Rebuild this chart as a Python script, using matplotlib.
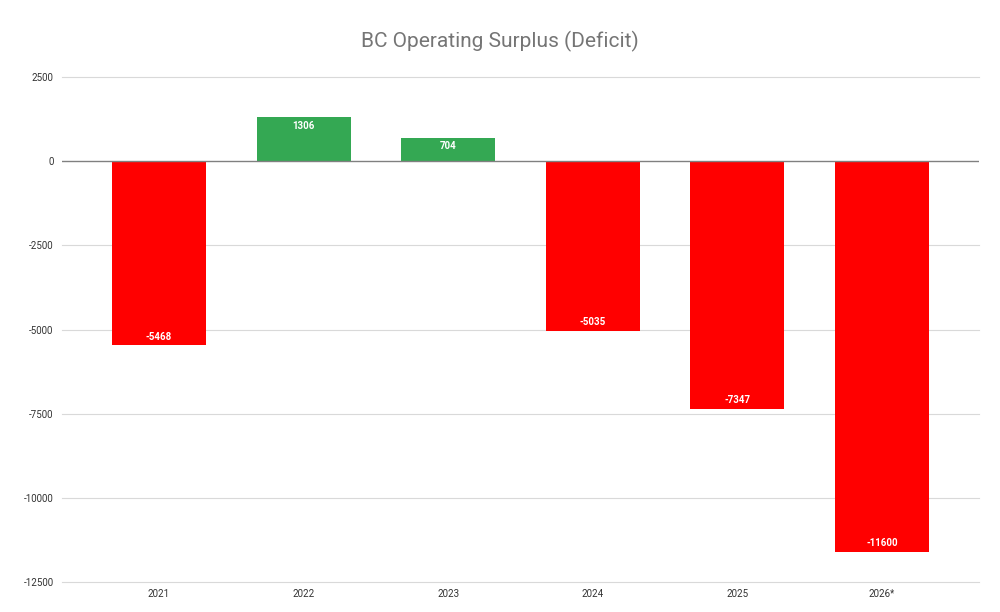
import matplotlib
matplotlib.use('Agg')
import matplotlib.pyplot as plt

plt.rcParams['font.family'] = ['Roboto', 'DejaVu Sans']

# Data
years = ['2021', '2022', '2023', '2024', '2025', '2026*']
surplus = [-5468, 1306, 704, -5035, -7347, -11600]
yticks = [2500, 0, -2500, -5000, -7500, -10000, -12500]

colors = ['#34a853' if v > 0 else '#ff0000' for v in surplus]

fig = plt.figure(figsize=(10, 6.12), dpi=100)
ax = fig.add_axes([0.062, 0.049, 0.917, 0.825])

x = range(len(years))
bars = ax.bar(x, surplus, width=0.65, color=colors, zorder=3)

# Value labels inside the bar ends
for b, v in zip(bars, surplus):
    if v > 0:
        ax.annotate(str(v), (b.get_x() + b.get_width() / 2, v), xytext=(0, -2.5),
                    textcoords='offset points', ha='center', va='top',
                    color='white', fontsize=7, fontweight='bold', zorder=4)
    else:
        ax.annotate(str(v), (b.get_x() + b.get_width() / 2, v), xytext=(0, 2.5),
                    textcoords='offset points', ha='center', va='bottom',
                    color='white', fontsize=7, fontweight='bold', zorder=4)

ax.set_ylim(-12500, 2500)
ax.set_xlim(-0.67, 5.67)
ax.set_yticks(yticks)
ax.set_yticklabels([str(t) for t in yticks])
ax.set_xticks(list(x))
ax.set_xticklabels(years)
ax.tick_params(axis='both', length=0, labelsize=7, labelcolor='#333333')
ax.tick_params(axis='y', pad=6)
ax.tick_params(axis='x', pad=5)

# Gridlines drawn by hand so the ones on the limits are not clipped
for t in yticks:
    if t != 0:
        ax.axhline(t, color='#d9d9d9', linewidth=0.8, zorder=0, clip_on=False)
ax.axhline(0, color='#808080', linewidth=1, zorder=5)
for s in ax.spines.values():
    s.set_visible(False)

fig.text(0.5, 0.932, 'BC Operating Surplus (Deficit)', ha='center', va='center',
         fontsize=15, color='#757575')

fig.savefig('out.png', dpi=100)
